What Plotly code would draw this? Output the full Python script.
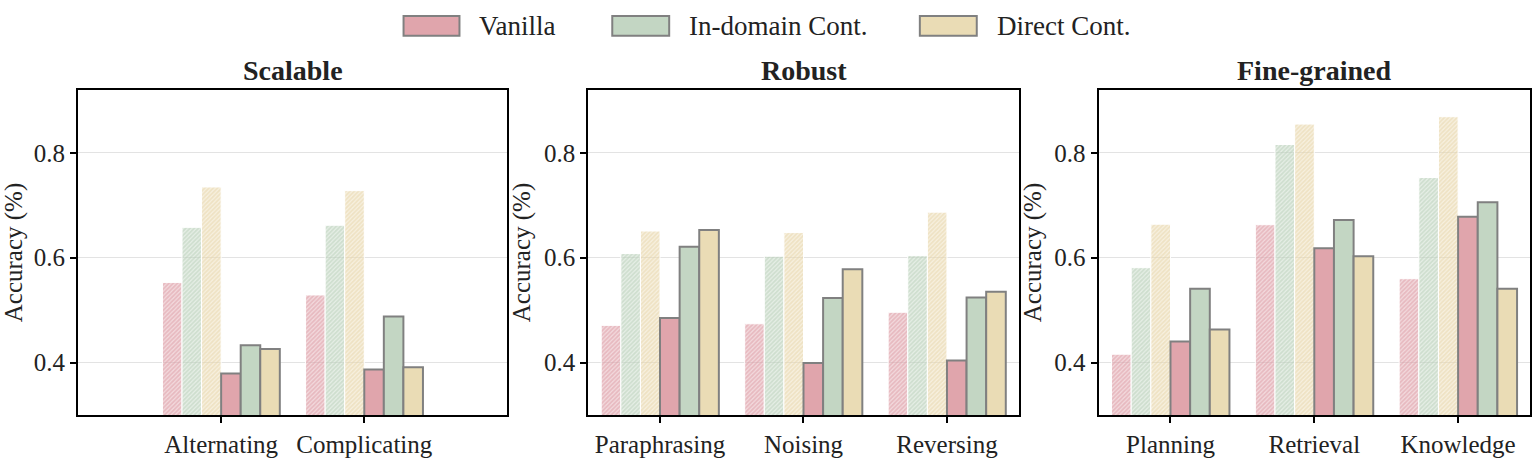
import plotly.graph_objects as go
from plotly.subplots import make_subplots

# methods and their colours
methods = ["Vanilla", "In-domain Cont.", "Direct Cont."]
colors = ["#E0A5AC", "#C3D6C3", "#EADCB5"]
light_colors = ["rgba(224,165,172,0.4)", "rgba(195,214,195,0.4)",
                "rgba(234,220,181,0.4)"]
hatch_colors = ["#DC98A1", "#B5CDB5", "#E6D3A6"]
edge_color = "#808080"

panel_titles = ["Scalable", "Robust", "Fine-grained"]

# categories per panel
scalable_cats = ["Alternating", "Complicating"]
robust_cats = ["Paraphrasing", "Noising", "Reversing"]
fine_cats = ["Planning", "Retrieval", "Knowledge"]

# hatched (faded) bars: one list per method
scalable_hatched_vanilla = [0.553, 0.529]
scalable_hatched_indomain = [0.658, 0.662]
scalable_hatched_direct = [0.735, 0.728]
# solid bars
scalable_vanilla = [0.379, 0.387]
scalable_indomain = [0.433, 0.488]
scalable_direct = [0.426, 0.391]

robust_hatched_vanilla = [0.471, 0.474, 0.496]
robust_hatched_indomain = [0.608, 0.603, 0.604]
robust_hatched_direct = [0.651, 0.648, 0.687]
robust_vanilla = [0.485, 0.399, 0.404]
robust_indomain = [0.621, 0.523, 0.524]
robust_direct = [0.653, 0.578, 0.535]

fine_hatched_vanilla = [0.416, 0.663, 0.560]
fine_hatched_indomain = [0.581, 0.816, 0.753]
fine_hatched_direct = [0.664, 0.855, 0.869]
fine_vanilla = [0.440, 0.618, 0.678]
fine_indomain = [0.541, 0.672, 0.706]
fine_direct = [0.463, 0.603, 0.541]

y_ticks = [0.4, 0.6, 0.8]

FONT = "Liberation Serif, Times New Roman, serif"
W, H = 1536, 462
M_L, M_R, M_T, M_B = 78, 4, 90, 43
PW = W - M_L - M_R
PH = H - M_T - M_B


def px_x(x):
    return (x - M_L) / PW


def px_y(y):
    return (H - M_B - y) / PH


panels = [
    (scalable_cats,
     [scalable_hatched_vanilla, scalable_hatched_indomain,
      scalable_hatched_direct],
     [scalable_vanilla, scalable_indomain, scalable_direct]),
    (robust_cats,
     [robust_hatched_vanilla, robust_hatched_indomain, robust_hatched_direct],
     [robust_vanilla, robust_indomain, robust_direct]),
    (fine_cats,
     [fine_hatched_vanilla, fine_hatched_indomain, fine_hatched_direct],
     [fine_vanilla, fine_indomain, fine_direct]),
]

fig = make_subplots(rows=1, cols=3)

for col, (cats, hatched, solid) in enumerate(panels, start=1):
    for i, vals in enumerate(hatched):
        fig.add_trace(go.Bar(
            x=cats, y=vals, name=methods[i], showlegend=False,
            marker=dict(color=light_colors[i],
                        line=dict(color="white", width=1),
                        pattern=dict(shape="/", fgcolor=hatch_colors[i],
                                     size=3, solidity=0.6)),
        ), row=1, col=col)
    for i, vals in enumerate(solid):
        fig.add_trace(go.Bar(
            x=cats, y=vals, name=methods[i], showlegend=False,
            marker=dict(color=colors[i],
                        line=dict(color=edge_color, width=2)),
        ), row=1, col=col)

domains = [(78, 508), (589, 1020), (1100, 1532)]
x_ranges = [[-1, 2], [-0.5, 2.5], [-0.5, 2.5]]
for k in range(3):
    fig.update_xaxes(
        domain=[px_x(domains[k][0]), px_x(domains[k][1])],
        range=x_ranges[k], showgrid=False,
        showline=True, mirror=True, linecolor="black", linewidth=2,
        ticks="outside", ticklen=6, tickwidth=1.5, tickcolor="black",
        tickfont=dict(family=FONT, size=25, color="#222"),
        row=1, col=k + 1)
    fig.update_yaxes(
        range=[0.3, 0.92], tickvals=y_ticks, tickformat=".1f",
        showgrid=True, gridcolor="#e3e3e3", gridwidth=1,
        showline=True, mirror=True, linecolor="black", linewidth=2,
        ticks="outside", ticklen=6, tickwidth=1.5, tickcolor="black",
        tickfont=dict(family=FONT, size=25, color="#222"),
        title=dict(text="Accuracy (%)", standoff=6,
                   font=dict(family=FONT, size=25, color="#222")),
        zeroline=False,
        row=1, col=k + 1)
    # panel title
    fig.add_annotation(
        text="<b>%s</b>" % panel_titles[k], xref="paper", yref="paper",
        x=px_x((domains[k][0] + domains[k][1]) / 2), y=px_y(70),
        xanchor="center", yanchor="middle", showarrow=False,
        font=dict(family=FONT, size=28, color="#222"))

# legend drawn by hand, wide boxes like the original
legend_boxes = [(404, 460), (613, 670), (921, 978)]
for i, (x0, x1) in enumerate(legend_boxes):
    fig.add_shape(type="rect", xref="paper", yref="paper",
                  x0=px_x(x0), x1=px_x(x1), y0=px_y(35), y1=px_y(15),
                  fillcolor=colors[i], line=dict(color=edge_color, width=2))
    fig.add_annotation(
        text=methods[i], xref="paper", yref="paper",
        x=px_x(x1 + 18), y=px_y(25), xanchor="left", yanchor="middle",
        showarrow=False, font=dict(family=FONT, size=27, color="#222"))

fig.update_layout(
    width=W, height=H,
    margin=dict(l=M_L, r=M_R, t=M_T, b=M_B),
    barmode="group", bargap=0.18, bargroupgap=0,
    plot_bgcolor="white", paper_bgcolor="white",
    font=dict(family=FONT, color="#222"),
)

fig.write_html("out.html", config={"displayModeBar": False},
               post_script="document.body.style.margin='0';")
